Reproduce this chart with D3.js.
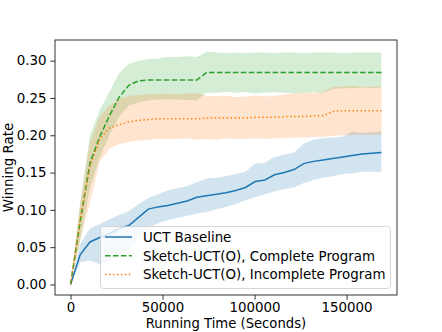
<!DOCTYPE html>
<html>
<head>
<meta charset="utf-8">
<script src="https://cdn.jsdelivr.net/npm/d3@7"></script>
<style>
  html, body { margin: 0; padding: 0; background: #fff; }
  svg { display: block; }
  text { font-family: "DejaVu Sans", sans-serif; fill: #000; }
</style>
</head>
<body>
<svg id="chart" width="442" height="332"></svg>
<script>
// ---- data ----
const timeStep = 5280;
const times = d3.range(33).map(k => k * timeStep);

const uctMean  = [0, 0.040, 0.057, 0.063, 0.068, 0.075, 0.079, 0.090, 0.101, 0.104, 0.106, 0.109, 0.112, 0.117, 0.119, 0.121, 0.123, 0.126, 0.130, 0.138, 0.140, 0.147, 0.150, 0.154, 0.162, 0.165, 0.167, 0.169, 0.171, 0.173, 0.175, 0.176, 0.177];
const uctUpper = [0, 0.055, 0.075, 0.081, 0.087, 0.093, 0.098, 0.108, 0.116, 0.121, 0.126, 0.129, 0.132, 0.137, 0.142, 0.143, 0.145, 0.148, 0.151, 0.162, 0.163, 0.171, 0.174, 0.177, 0.189, 0.194, 0.196, 0.197, 0.198, 0.205, 0.203, 0.204, 0.205];
const uctLower = [0, 0.030, 0.032, 0.027, 0.032, 0.040, 0.047, 0.062, 0.076, 0.082, 0.086, 0.089, 0.092, 0.095, 0.097, 0.101, 0.104, 0.108, 0.113, 0.117, 0.121, 0.125, 0.128, 0.130, 0.136, 0.140, 0.143, 0.145, 0.148, 0.149, 0.151, 0.151, 0.151];

const completeMean  = [0, 0.085, 0.163, 0.198, 0.226, 0.251, 0.267, 0.273, 0.274, 0.274, 0.274, 0.274, 0.274, 0.274, 0.284, 0.284, 0.284, 0.284, 0.284, 0.284, 0.284, 0.284, 0.284, 0.284, 0.284, 0.284, 0.284, 0.284, 0.284, 0.284, 0.284, 0.284, 0.284];
const completeUpper = [0, 0.110, 0.200, 0.234, 0.258, 0.283, 0.296, 0.300, 0.302, 0.303, 0.305, 0.305, 0.306, 0.305, 0.312, 0.311, 0.310, 0.311, 0.310, 0.311, 0.311, 0.310, 0.311, 0.311, 0.310, 0.311, 0.311, 0.311, 0.310, 0.311, 0.311, 0.311, 0.311];
const completeLower = [0, 0.060, 0.130, 0.170, 0.200, 0.225, 0.240, 0.244, 0.247, 0.248, 0.248, 0.248, 0.247, 0.247, 0.257, 0.257, 0.258, 0.257, 0.258, 0.256, 0.257, 0.258, 0.257, 0.256, 0.257, 0.258, 0.257, 0.262, 0.263, 0.263, 0.264, 0.263, 0.264];

const incompleteMean  = [0, 0.088, 0.158, 0.195, 0.210, 0.214, 0.218, 0.220, 0.221, 0.222, 0.222, 0.222, 0.222, 0.222, 0.223, 0.223, 0.223, 0.223, 0.223, 0.224, 0.224, 0.224, 0.225, 0.225, 0.225, 0.226, 0.226, 0.232, 0.233, 0.233, 0.233, 0.233, 0.233];
const incompleteUpper = [0, 0.110, 0.190, 0.225, 0.240, 0.249, 0.253, 0.254, 0.255, 0.255, 0.256, 0.255, 0.256, 0.256, 0.253, 0.252, 0.253, 0.251, 0.252, 0.253, 0.252, 0.253, 0.255, 0.256, 0.257, 0.257, 0.258, 0.265, 0.265, 0.266, 0.265, 0.265, 0.265];
const incompleteLower = [0, 0.060, 0.110, 0.165, 0.182, 0.188, 0.191, 0.193, 0.194, 0.195, 0.195, 0.195, 0.196, 0.194, 0.195, 0.194, 0.196, 0.195, 0.195, 0.196, 0.195, 0.196, 0.196, 0.197, 0.197, 0.198, 0.198, 0.199, 0.200, 0.200, 0.201, 0.200, 0.201];

const xTicks = [0, 50000, 100000, 150000];
const yTicks = [0.00, 0.05, 0.10, 0.15, 0.20, 0.25, 0.30];
const seriesNames = ["UCT Baseline", "Sketch-UCT(O), Complete Program", "Sketch-UCT(O), Incomplete Program"];
const seriesColors = ["#1f77b4", "#2ca02c", "#ff7f0e"];
const seriesDash = [null, "5.55,2.4", "1.5,2.47"];

const series = [
  { name: seriesNames[0], mean: uctMean, lo: uctLower, hi: uctUpper, color: seriesColors[0], dash: seriesDash[0] },
  { name: seriesNames[1], mean: completeMean, lo: completeLower, hi: completeUpper, color: seriesColors[1], dash: seriesDash[1] },
  { name: seriesNames[2], mean: incompleteMean, lo: incompleteLower, hi: incompleteUpper, color: seriesColors[2], dash: seriesDash[2] }
];

// ---- layout ----
const L = 55, R = 397, T = 40, B = 295;
const tMax = times[times.length - 1];
const xPad = tMax * 0.05;
const x = d3.scaleLinear().domain([-xPad, tMax + xPad]).range([L, R]);
const y = d3.scaleLinear().domain([-0.0141, 0.3277]).range([B, T]);

const svg = d3.select("#chart");
const plot = svg.append("g");

// bands
series.forEach(s => {
  const area = d3.area()
    .x((d, i) => x(times[i]))
    .y0((d, i) => y(s.lo[i]))
    .y1((d, i) => y(s.hi[i]));
  plot.append("path")
    .attr("d", area(s.mean))
    .attr("fill", s.color)
    .attr("fill-opacity", 0.2)
    .attr("stroke", "none");
});

// lines
series.forEach(s => {
  const line = d3.line()
    .x((d, i) => x(times[i]))
    .y(d => y(d));
  const p = plot.append("path")
    .attr("d", line(s.mean))
    .attr("fill", "none")
    .attr("stroke", s.color)
    .attr("stroke-width", 1.5);
  if (s.dash) p.attr("stroke-dasharray", s.dash);
});

// axes
const fs = "13.4px";
const xAxis = svg.append("g").attr("transform", `translate(0,${B})`)
  .call(d3.axisBottom(x).tickValues(xTicks).tickFormat(d3.format("d")).tickSize(4.7).tickPadding(2.8));
const yAxis = svg.append("g").attr("transform", `translate(${L},0)`)
  .call(d3.axisLeft(y).tickValues(yTicks).tickFormat(d3.format(".2f")).tickSize(4.7).tickPadding(3.8));
[xAxis, yAxis].forEach(a => {
  a.select(".domain").remove();
  a.selectAll(".tick line").attr("stroke", "#000").attr("stroke-width", 0.8);
  a.selectAll(".tick text").attr("font-size", fs).attr("font-family", "DejaVu Sans").attr("fill", "#000");
});

// frame
svg.append("rect")
  .attr("x", L).attr("y", T).attr("width", R - L).attr("height", B - T)
  .attr("fill", "none").attr("stroke", "#000").attr("stroke-width", 0.8);

// axis labels
svg.append("text")
  .attr("x", (L + R) / 2).attr("y", 328)
  .attr("text-anchor", "middle").attr("font-size", "13.2px")
  .text("Running Time (Seconds)");
svg.append("text")
  .attr("transform", `translate(13,${(T + B) / 2}) rotate(-90)`)
  .attr("text-anchor", "middle").attr("font-size", fs)
  .text("Winning Rate");

// legend
const lg = svg.append("g");
lg.append("rect")
  .attr("x", 100.5).attr("y", 226.5).attr("width", 290).attr("height", 62)
  .attr("rx", 3).attr("ry", 3)
  .attr("fill", "#fff").attr("fill-opacity", 0.8)
  .attr("stroke", "#ccc").attr("stroke-width", 0.8);
const rowY = [237, 255.7, 274.4];
series.forEach((s, i) => {
  const l = lg.append("line")
    .attr("x1", 105).attr("x2", 132)
    .attr("y1", rowY[i]).attr("y2", rowY[i])
    .attr("stroke", s.color).attr("stroke-width", 1.5);
  if (s.dash) l.attr("stroke-dasharray", s.dash);
  lg.append("text")
    .attr("x", 143).attr("y", rowY[i]).attr("dy", "0.36em")
    .attr("font-size", fs)
    .text(s.name);
});
</script>
</body>
</html>
